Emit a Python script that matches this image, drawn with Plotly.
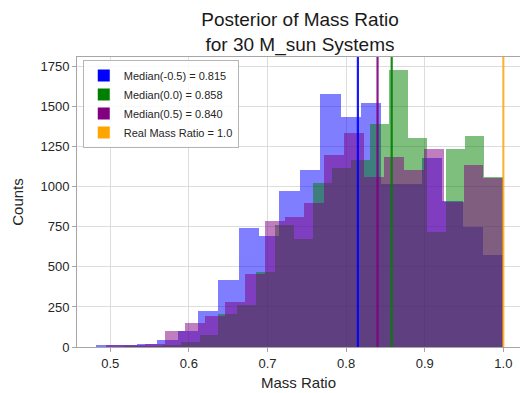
import numpy as np
import plotly.graph_objects as go

# Posterior histograms of the mass ratio (20 equal-width bins per run)
blue_range = (0.4822, 1.0)
blue_counts = [8, 8, 17, 42, 100, 225, 417, 744, 694, 975,
               1104, 1578, 1437, 1521, 1020, 1020, 1177, 912, 750, 575]

green_range = (0.5169, 1.0)
green_counts = [3, 5, 12, 30, 73, 205, 265, 470, 760, 671,
                1025, 1119, 1167, 1392, 1727, 1302, 719, 1236, 1319, 1059]

purple_range = (0.4940, 1.0)
purple_counts = [8, 8, 20, 100, 150, 192, 281, 458, 785, 810,
                 900, 1198, 1333, 1063, 1188, 1104, 1236, 908, 1136, 1055]

# Reference lines: medians of each run and the true value
line_labels = ["Median(-0.5) = 0.815", "Median(0.0) = 0.858",
               "Median(0.5) = 0.840", "Real Mass Ratio = 1.0"]
line_values = [0.815, 0.858, 0.840, 1.0]
line_colors = ["#0000ff", "#008000", "#800080", "#ffa500"]

x_ticks = [0.5, 0.6, 0.7, 0.8, 0.9, 1.0]
y_ticks = [0, 250, 500, 750, 1000, 1250, 1500, 1750]

FONT = "Liberation Sans, Arial, Helvetica, sans-serif"
TEXT = "#262626"
SPINE = "#a6a6a6"
GRID = "#dddddd"

fig = go.Figure()


def add_hist(rng, counts, color):
    edges = np.linspace(rng[0], rng[1], len(counts) + 1)
    centers = (edges[:-1] + edges[1:]) / 2
    widths = np.diff(edges)
    fig.add_trace(go.Bar(
        x=centers, y=counts, width=widths,
        marker=dict(color=color, line=dict(width=0)),
        opacity=0.5, showlegend=False, hoverinfo="skip",
    ))


add_hist(blue_range, blue_counts, "#0000ff")
add_hist(green_range, green_counts, "#008000")
add_hist(purple_range, purple_counts, "#800080")

# vertical reference lines
for val, col in zip(line_values, line_colors):
    opacity = 0.75 if col == "#ffa500" else 0.9
    fig.add_shape(type="line", xref="x", yref="paper",
                  x0=val, x1=val, y0=0, y1=1,
                  line=dict(color=col, width=2.2), opacity=opacity)

# legend entries drawn as solid patches
for lab, col in zip(line_labels, line_colors):
    fig.add_trace(go.Bar(x=[None], y=[None], name=lab,
                         marker=dict(color=col, line=dict(width=0)),
                         showlegend=True))

fig.update_layout(
    width=520, height=393,
    margin=dict(l=77, r=0, t=57, b=46),
    paper_bgcolor="white", plot_bgcolor="white",
    barmode="overlay", bargap=0,
    font=dict(family=FONT, color=TEXT),
    title=dict(
        text="Posterior of Mass Ratio<br>for 30 M_sun Systems",
        font=dict(size=19, family=FONT, color="#1a1a1a"),
        x=300 / 520, xref="container", xanchor="center",
        y=1 - 26 / 393, yref="container", yanchor="middle",
    ),
    legend=dict(
        x=0.013, y=0.99, xanchor="left", yanchor="top",
        bgcolor="rgba(255,255,255,0.85)", bordercolor="#b5b5b5",
        borderwidth=1, font=dict(size=11, family=FONT, color=TEXT),
        itemwidth=30, tracegroupgap=0,
    ),
    xaxis=dict(
        range=[0.4577, 1.0212], tickvals=x_ticks, tickformat=".1f",
        showgrid=True, gridcolor=GRID, gridwidth=1, zeroline=False,
        showline=True, linecolor=SPINE, linewidth=1, mirror=True,
        ticks="outside", ticklen=4, tickcolor=SPINE,
        tickfont=dict(size=13, color=TEXT),
        title=dict(text="Mass Ratio", font=dict(size=15, color=TEXT), standoff=7),
    ),
    yaxis=dict(
        range=[0, 1810], tickvals=y_ticks,
        showgrid=True, gridcolor=GRID, gridwidth=1, zeroline=False,
        showline=True, linecolor=SPINE, linewidth=1,
        ticks="outside", ticklen=4, tickcolor=SPINE,
        tickfont=dict(size=13, color=TEXT),
        title=dict(text="Counts", font=dict(size=15, color=TEXT), standoff=13),
    ),
)

fig.write_html("out.html")
